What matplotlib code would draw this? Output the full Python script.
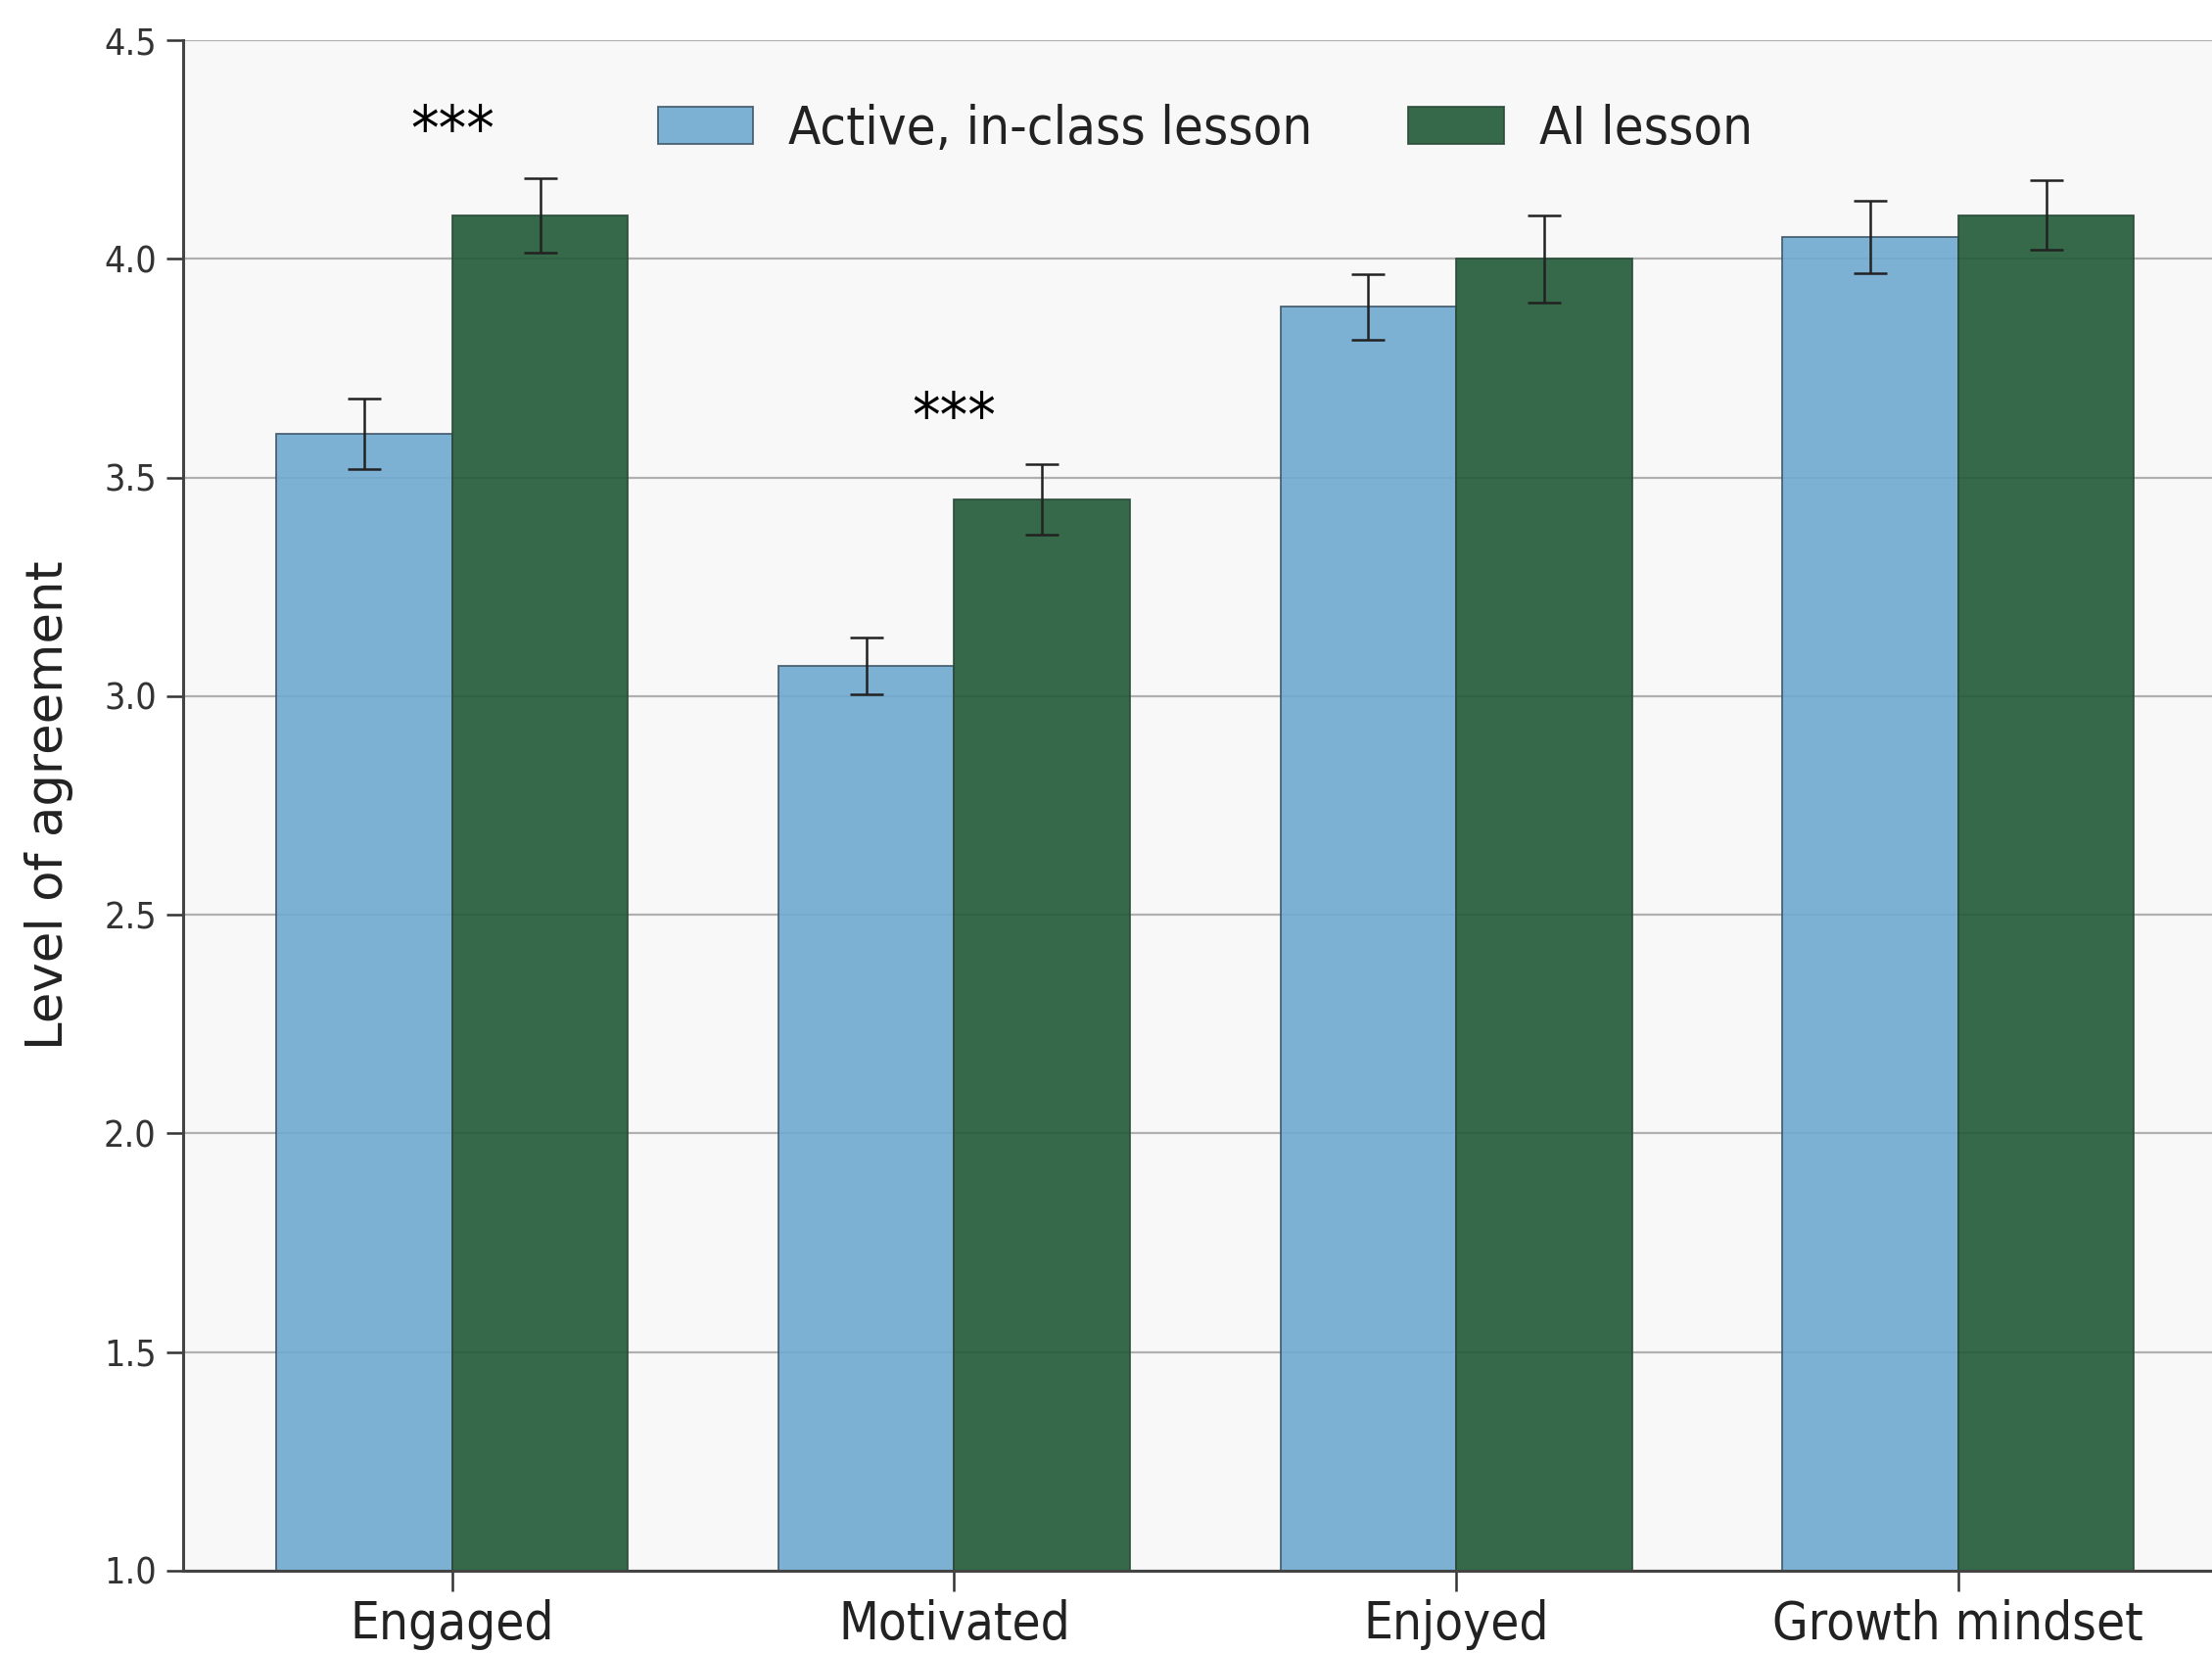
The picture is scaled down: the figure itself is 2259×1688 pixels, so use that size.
import matplotlib
matplotlib.use("Agg")
import matplotlib.pyplot as plt
import numpy as np

categories = ["Engaged", "Motivated", "Enjoyed", "Growth mindset"]
active_means = [3.60, 3.07, 3.89, 4.05]
active_err = [0.08, 0.065, 0.075, 0.083]
ai_means = [4.10, 3.45, 4.00, 4.10]
ai_err = [0.085, 0.08, 0.10, 0.08]
series_labels = ["Active, in-class lesson", "AI lesson"]
significance = ["***", "***", "", ""]
yticks = [1.0, 1.5, 2.0, 2.5, 3.0, 3.5, 4.0, 4.5]

plt.rcParams['font.family'] = ['DejaVu Sans']
fstretch = 'condensed'

fig = plt.figure(figsize=(22.59, 16.88), dpi=100)
ax = fig.add_axes([0.083, 0.0498, 0.9237, 0.9259])
ax.set_facecolor('#f8f8f8')

x = np.arange(len(categories))
w = 0.35
ax.set_axisbelow(True)
ax.yaxis.grid(True, color='#b0b0b0', linewidth=1.6)
b1 = ax.bar(x - w/2, active_means, w, yerr=active_err, color='#70aad0', alpha=0.9,
            edgecolor='#3f5566', linewidth=1.3, capsize=12,
            error_kw=dict(ecolor='#222222', elinewidth=1.8, capthick=1.8),
            label=series_labels[0])
b2 = ax.bar(x + w/2, ai_means, w, yerr=ai_err, color='#215a37', alpha=0.9,
            edgecolor='#2a4a38', linewidth=1.3, capsize=12,
            error_kw=dict(ecolor='#222222', elinewidth=1.8, capthick=1.8),
            label=series_labels[1])

for i, s in enumerate(significance):
    if s:
        top = max(active_means[i] + active_err[i], ai_means[i] + ai_err[i])
        ax.text(x[i], top + 0.035, s, ha='center', va='bottom', fontsize=46,
                fontstretch=fstretch, color='black')

ax.set_ylim(1.0, 4.5)
ax.set_yticks(yticks)
ax.set_yticklabels([f"{t:.1f}" for t in yticks], fontsize=27, fontstretch=fstretch, color='#333333')
ax.set_xticks(x)
ax.set_xticklabels(categories, fontsize=38, fontstretch=fstretch, color='#222222')
ax.set_ylabel("Level of agreement", fontsize=37, color='#222222', labelpad=22)
ax.tick_params(axis='y', length=12, width=1.8, color='#333333', pad=8)
ax.tick_params(axis='x', length=15, width=1.8, color='#333333', pad=6)

for side in ['top', 'right']:
    ax.spines[side].set_visible(False)
for side in ['left', 'bottom']:
    ax.spines[side].set_color('#444444')
    ax.spines[side].set_linewidth(2.2)

leg = ax.legend(loc='upper center', ncol=2, frameon=False,
                prop=dict(size=39, stretch=fstretch), borderaxespad=0.8,
                handlelength=1.8, handletextpad=0.67, columnspacing=1.8)
for t in leg.get_texts():
    t.set_color('#222222')

fig.savefig("out.png", dpi=100, facecolor='white')
